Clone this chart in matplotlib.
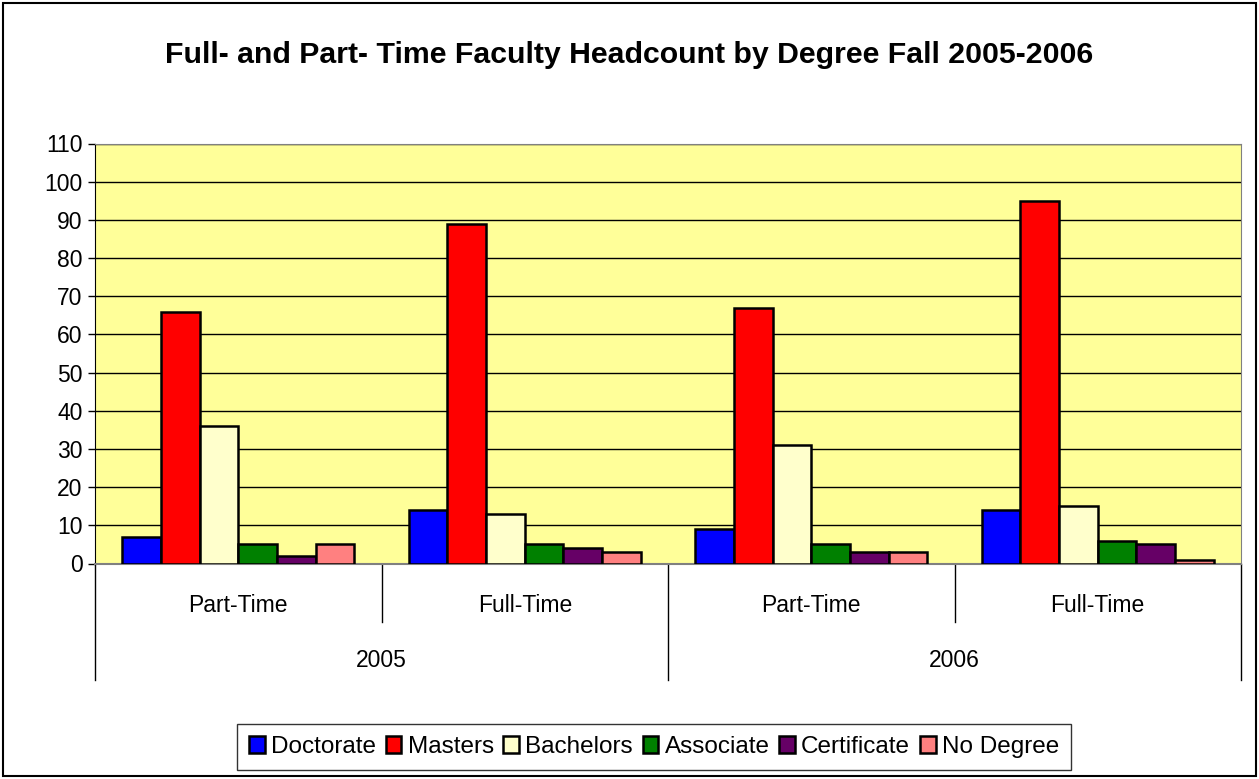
import numpy as np
import matplotlib.pyplot as plt
from matplotlib.patches import Rectangle
from matplotlib.lines import Line2D

plt.rcParams['font.family'] = ['Liberation Sans', 'DejaVu Sans']

# data
years = ['2005', '2006']
status = ['Part-Time', 'Full-Time', 'Part-Time', 'Full-Time']
degrees = ['Doctorate', 'Masters', 'Bachelors', 'Associate', 'Certificate', 'No Degree']
doctorate = [7, 14, 9, 14]
masters = [66, 89, 67, 95]
bachelors = [36, 13, 31, 15]
associate = [5, 5, 5, 6]
certificate = [2, 4, 3, 5]
no_degree = [5, 3, 3, 1]
colors = ['#0000FF', '#FF0000', '#FFFFCC', '#008000', '#660066', '#FF8080']

series = [doctorate, masters, bachelors, associate, certificate, no_degree]

fig = plt.figure(figsize=(12.59, 7.79), dpi=100)
ax = fig.add_axes([95 / 1259, 1 - 563.5 / 779, 1146 / 1259, 420 / 779])
ax.set_facecolor('#FFFF99')

x = np.arange(len(status))
w = 1 / 7.4
for i, (vals, c, name) in enumerate(zip(series, colors, degrees)):
    ax.bar(x + (i - 2.5) * w, vals, w, color=c, edgecolor='black', linewidth=1.8,
           label=name, zorder=3)

ax.set_xlim(-0.5, 3.5)
ax.set_ylim(0, 110)
ax.set_yticks(range(0, 111, 10))
ax.tick_params(axis='y', labelsize=16.5, length=5, width=1, pad=4)
ax.set_xticks([])
ax.yaxis.grid(True, color='black', linewidth=1, zorder=0)
ax.set_axisbelow(True)
for s in ['top', 'right']:
    ax.spines[s].set_color('#808080')
ax.spines['bottom'].set_color('#808080')
ax.spines['bottom'].set_linewidth(1.5)
ax.spines['left'].set_color('black')

# group separators and two-level category labels
tr = ax.get_xaxis_transform()
for b in [0.5, 2.5]:
    ax.add_line(Line2D([b, b], [0, -0.139], transform=tr, color='black', lw=1, clip_on=False))
for b in [-0.5, 1.5, 3.5]:
    ax.add_line(Line2D([b, b], [0, -0.277], transform=tr, color='black', lw=1, clip_on=False))
for xi, lab in zip(x, status):
    ax.text(xi, -0.099, lab, transform=tr, ha='center', va='center', fontsize=16.5)
for k, yr in enumerate(years):
    ax.text(0.5 + 2 * k, -0.23, yr, transform=tr, ha='center', va='center', fontsize=16.5)

fig.text(0.5, 1 - 55 / 779, 'Full- and Part- Time Faculty Headcount by Degree Fall 2005-2006',
         ha='center', va='center', fontsize=21.8, fontweight='bold')

leg = fig.legend(loc='center', bbox_to_anchor=(654 / 1259, 1 - 747 / 779), ncol=6,
                 fontsize=17.5, frameon=True, fancybox=False, handlelength=0.65,
                 handleheight=0.65, handletextpad=0.25, columnspacing=0.4,
                 borderpad=0.5, edgecolor='black')
leg.get_frame().set_linewidth(1)

fig.patches.append(Rectangle((3 / 1259, 3 / 779), 1253 / 1259, 773 / 779,
                             transform=fig.transFigure, fill=False,
                             edgecolor='black', linewidth=1.5))

fig.savefig('out.png', dpi=100)
